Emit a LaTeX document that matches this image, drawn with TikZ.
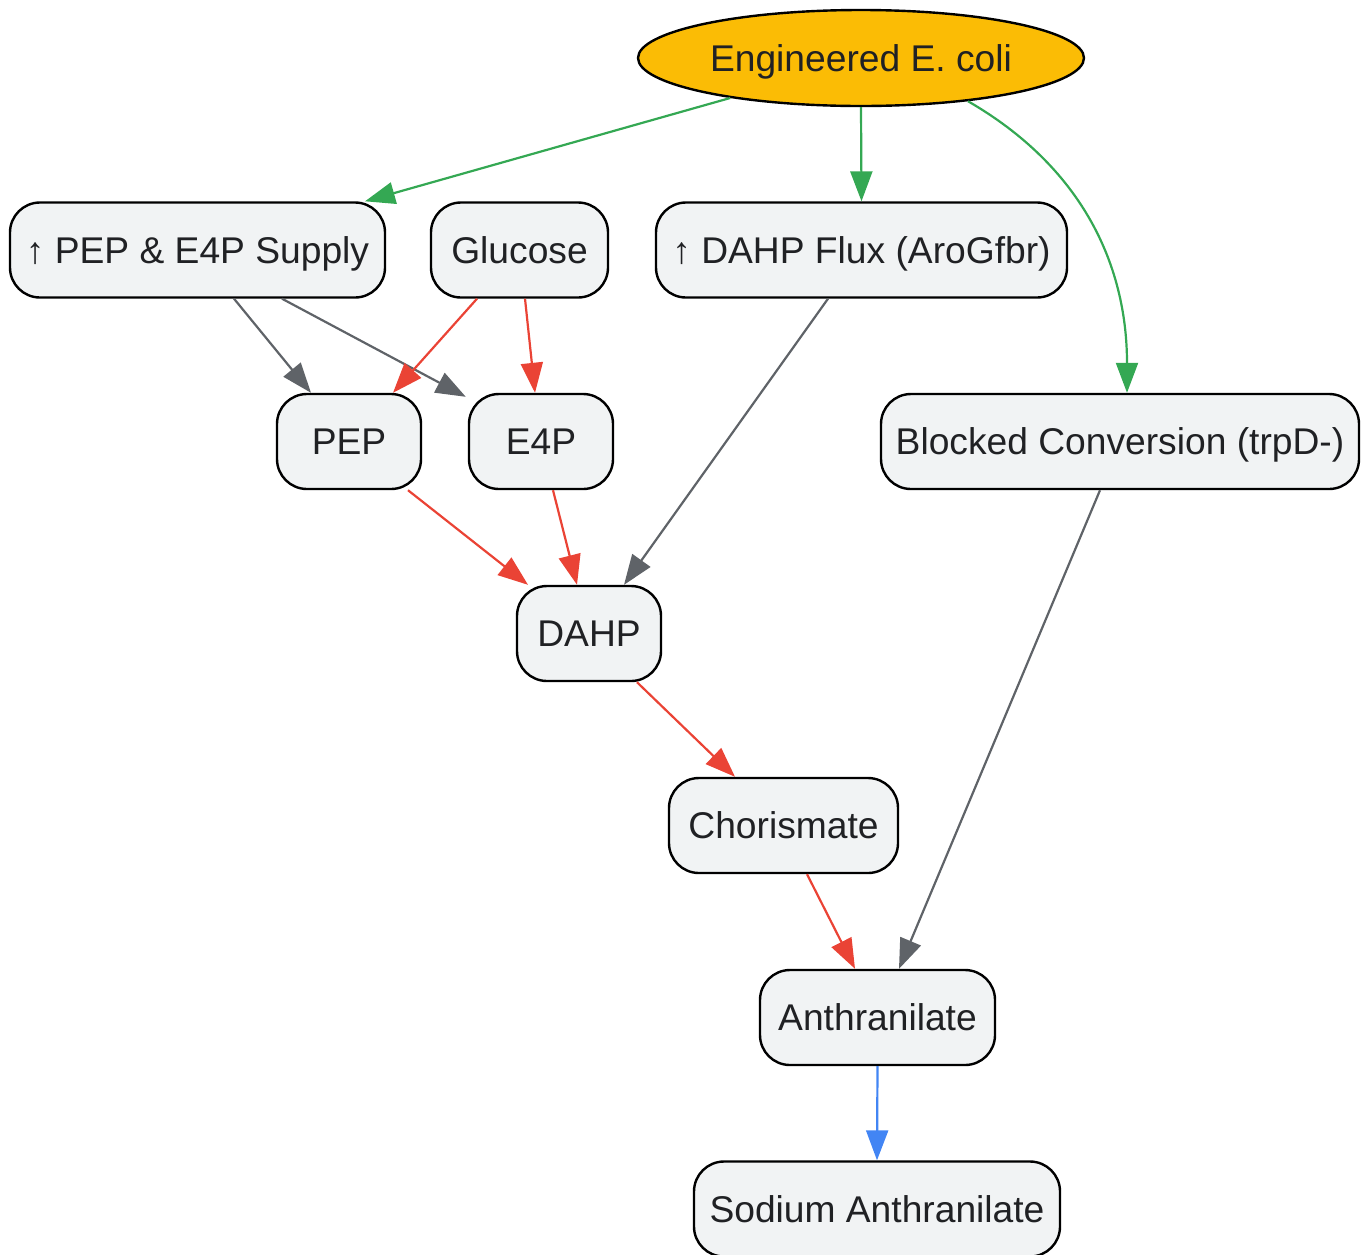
\documentclass[tikz,border=0pt]{standalone}
\usepackage{fontspec}
\setmainfont{Liberation Sans}
\usetikzlibrary{shapes.geometric,arrows.meta}
\definecolor{boxfill}{HTML}{F1F3F4}
\definecolor{txt}{HTML}{202124}
\definecolor{gold}{HTML}{FBBC05}
\definecolor{gr}{HTML}{34A853}
\definecolor{rd}{HTML}{EA4335}
\definecolor{gy}{HTML}{5F6368}
\definecolor{bl}{HTML}{4285F4}
\tikzset{
  lbl/.style={draw=black,line width=1.2pt,inner sep=0pt,text=txt,text height=13.4pt,text depth=0pt,font=\fontsize{18.6}{22}\selectfont},
  box/.style={lbl,fill=boxfill,rounded corners=15pt,minimum height=47.5pt},
  edge/.style={line width=1.1pt,-{Triangle[length=15pt,width=11pt]}}
}
\begin{document}
\begin{tikzpicture}[x=0.5pt,y=-0.5pt]
\useasboundingbox (0,0) rectangle (1364,1254);
\node[lbl,ellipse,fill=gold,minimum width=223pt,minimum height=48pt] (ecoli) at (861,58) {Engineered E. coli};
\node[box,minimum width=187.5pt] (sup) at (197.5,250) {↑ PEP \& E4P Supply};
\node[box,minimum width=88.5pt] (glu) at (519.5,250) {Glucose};
\node[box,minimum width=205.5pt] (flux) at (861.5,250) {↑ DAHP Flux (AroGfbr)};
\node[box,minimum width=72pt] (pep) at (349,441.5) {PEP};
\node[box,minimum width=72pt] (e4p) at (541,441.5) {E4P};
\node[box,minimum width=239pt] (blk) at (1120,441.5) {Blocked Conversion (trpD-)};
\node[box,minimum width=72pt] (dahp) at (589,633.5) {DAHP};
\node[box,minimum width=114.5pt] (cho) at (783.5,825.5) {Chorismate};
\node[box,minimum width=117.5pt] (ant) at (877.5,1017.5) {Anthranilate};
\node[box,minimum width=183pt] (sod) at (877,1209) {Sodium Anthranilate};
% engineering targets
\draw[edge,gr] (ecoli.197) -- ([xshift=83.75pt]sup.north);
\draw[edge,gr] (ecoli.south) -- (flux.north);
\draw[edge,gr] (ecoli.-22) to[out=-30,in=90] ([xshift=3.5pt]blk.north);
\draw[edge,gy] ([xshift=18.25pt]sup.south) -- ([xshift=-19pt]pep.north);
\draw[edge,gy] ([xshift=42.25pt]sup.south) -- ([xshift=-1pt,yshift=-2pt]e4p.north west);
\draw[edge,gy] ([xshift=-16.75pt]flux.south) -- ([xshift=17.5pt]dahp.north);
\draw[edge,gy] ([xshift=-10pt]blk.south) -- ([xshift=10.75pt]ant.north);
% pathway
\draw[edge,rd] ([xshift=-21.25pt]glu.south) -- ([xshift=22pt]pep.north);
\draw[edge,rd] ([xshift=2.75pt]glu.south) -- ([xshift=-3pt]e4p.north);
\draw[edge,rd] ([xshift=29.5pt]pep.south) -- ([xshift=-30.5pt]dahp.north);
\draw[edge,rd] ([xshift=6pt]e4p.south) -- ([xshift=-6pt]dahp.north);
\draw[edge,rd] ([xshift=24pt]dahp.south) -- ([xshift=-24.25pt]cho.north);
\draw[edge,rd] ([xshift=11.75pt]cho.south) -- ([xshift=-11.25pt]ant.north);
\draw[edge,bl] (ant.south) -- (sod.north);
\end{tikzpicture}
\end{document}
